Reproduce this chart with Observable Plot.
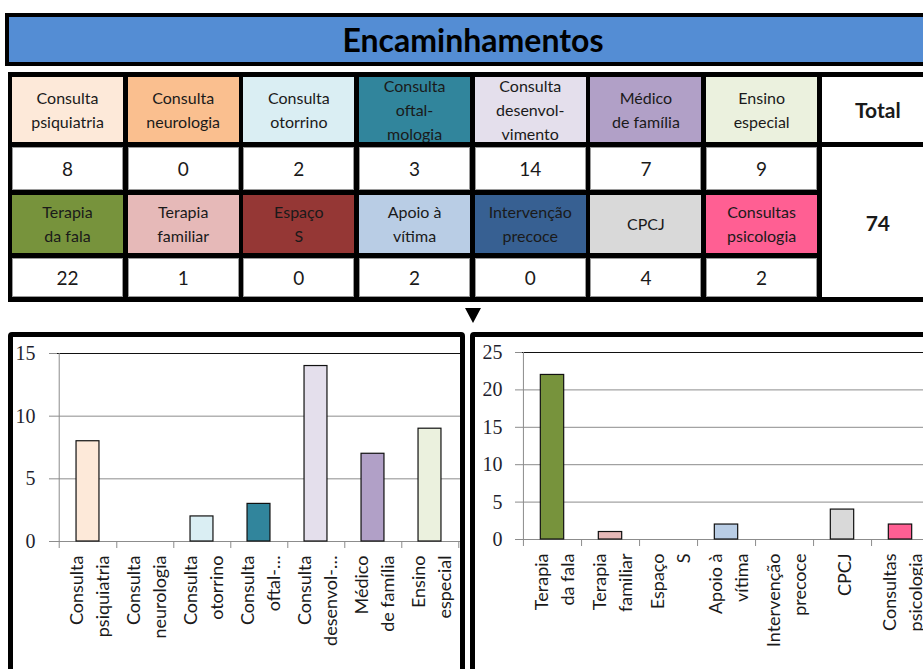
<!DOCTYPE html>
<html>
<head>
<meta charset="utf-8">
<script src="https://cdn.jsdelivr.net/npm/d3@7"></script>
<script src="https://cdn.jsdelivr.net/npm/@observablehq/plot@0.6"></script>
<style>
  html, body { margin: 0; padding: 0; width: 923px; height: 669px; overflow: hidden; background: #fff; font-family: Lato, "Open Sans", sans-serif; color: #1a1a1a; }
  #title { position: absolute; left: 5px; top: 13px; width: 928px; height: 45px; border: 4px solid #000; background: #548DD4;
           display: flex; align-items: center; justify-content: center; font-weight: 700; font-size: 32px; color: #000; }
  #table { position: absolute; left: 8px; top: 72px; width: 940px; background: #000; padding: 5px 0 5px 4px; box-sizing: border-box;
           display: grid; grid-template-columns: repeat(7, 111px) 112px; column-gap: 4.7px; row-gap: 5px;
           grid-template-rows: 65px 43px 58px 39px; }
  .head { display: flex; align-items: center; justify-content: center; text-align: center; white-space: pre-line;
          font-size: 16px; line-height: 24px; overflow: hidden; color: #1a1a1a; }
  .val { background: #fff; display: flex; align-items: center; justify-content: center; font-size: 19px; box-shadow: inset 0 0 0 1px #9a9a9a; }
  .total { background: #fff; display: flex; align-items: center; justify-content: center; font-size: 21px; font-weight: 700; }
  #arrow { position: absolute; left: 465px; top: 308px; width: 0; height: 0; border-left: 8px solid transparent; border-right: 8px solid transparent; border-top: 15px solid #000; }
  .panel { position: absolute; top: 332px; height: 360px; border: 5px solid #000; border-radius: 4px; background: #fff; overflow: hidden; }
  #panelA { left: 8px; width: 447px; }
  #panelB { left: 470px; width: 470px; }
  .panel svg { position: absolute; left: 0; top: 0; overflow: visible; }
</style>
</head>
<body>
<div id="title">Encaminhamentos</div>
<div id="table"></div>
<div id="arrow"></div>
<div class="panel" id="panelA"></div>
<div class="panel" id="panelB"></div>
<script>
// ---- data ----
const headA = ["Consulta\npsiquiatria", "Consulta\nneurologia", "Consulta\notorrino", "Consulta\noftal-\nmologia", "Consulta\ndesenvol-\nvimento", "Médico\nde família", "Ensino\nespecial"];
const axisA = ["Consulta\npsiquiatria", "Consulta\nneurologia", "Consulta\notorrino", "Consulta\noftal-…", "Consulta\ndesenvol-…", "Médico\nde família", "Ensino\nespecial"];
const valuesA = [8, 0, 2, 3, 14, 7, 9];
const headB = ["Terapia\nda fala", "Terapia\nfamiliar", "Espaço\nS", "Apoio à\nvítima", "Intervenção\nprecoce", "CPCJ", "Consultas\npsicologia"];
const axisB = ["Terapia\nda fala", "Terapia\nfamiliar", "Espaço\nS", "Apoio à\nvítima", "Intervenção\nprecoce", "CPCJ", "Consultas\npsicologia"];
const valuesB = [22, 1, 0, 2, 0, 4, 2];
const ticksA = [0, 5, 10, 15];
const ticksB = [0, 5, 10, 15, 20, 25];
const totalLabel = "Total";

// ---- styles ----
const paletteA = ["#FDE9D9", "#FABF8F", "#DAEEF3", "#31859C", "#E4DFEC", "#B1A0C7", "#EBF1DE"];
const paletteB = ["#77933C", "#E6B9B8", "#953735", "#B9CDE5", "#376092", "#D9D9D9", "#FF5F93"];

// ---- table ----
const table = document.getElementById("table");
function cell(cls, text, col, row, span, bg) {
  const d = document.createElement("div");
  d.className = cls;
  d.textContent = text;
  d.style.gridColumn = col;
  d.style.gridRow = span ? `${row} / span ${span}` : row;
  if (bg) d.style.background = bg;
  table.appendChild(d);
}
headA.forEach((h, i) => cell("head", h, i + 1, 1, 0, paletteA[i]));
valuesA.forEach((v, i) => cell("val", v, i + 1, 2));
headB.forEach((h, i) => cell("head", h, i + 1, 3, 0, paletteB[i]));
valuesB.forEach((v, i) => cell("val", v, i + 1, 4));
cell("total", totalLabel, 8, 1);
cell("total", d3.sum(valuesA) + d3.sum(valuesB), 8, 2, 3);

// ---- charts ----
function chart({cats, vals, pal, ticks, width, height, ml, mt, mb, tickSize, tickPad}) {
  const n = cats.length;
  const bw = (width - ml) / n;
  const plotH = height - mt - mb;
  const ymax = ticks[ticks.length - 1];
  const data = cats.map((c, i) => ({c, v: vals[i]}));
  const inset = (bw - 23.5) / 2;
  return Plot.plot({
    width, height,
    marginLeft: ml, marginRight: 0, marginTop: mt, marginBottom: mb,
    x: {domain: cats, padding: 0, axis: null},
    y: {domain: [0, ymax], axis: null},
    color: {domain: cats, range: pal},
    style: {background: "transparent", overflow: "visible"},
    marks: [
      Plot.ruleY(ticks.filter(t => t < ymax), {stroke: "#8c8c8c", strokeWidth: 1}),
      Plot.ruleY([ymax], {stroke: "#111", strokeWidth: 1}),
      Plot.ruleX([cats[0]], {x: d => d, dx: -bw / 2, stroke: "#8c8c8c", insetBottom: -7}),
      Plot.ruleX(cats, {x: d => d, dx: bw / 2, stroke: "#8c8c8c", insetTop: plotH, insetBottom: -7}),
      Plot.barY(data, {filter: d => d.v > 0, x: "c", y: "v", fill: "c", stroke: "#111", strokeWidth: 1.2, insetLeft: inset, insetRight: inset}),
      Plot.axisY(ticks, {tickSize, tickPadding: tickPad, stroke: "#8c8c8c", fill: "#1f1f2f", fontSize: 20, fontFamily: "Liberation Serif", label: null}),
      Plot.axisX({tickSize: 0, tickPadding: 14, tickRotate: -90, fontSize: 18, fontFamily: "Lato", lineHeight: 1.45, fill: "#1a1a1a", label: null})
    ]
  });
}

document.getElementById("panelA").appendChild(chart({
  cats: axisA, vals: valuesA, pal: paletteA, ticks: ticksA,
  width: 447, height: 340, ml: 44, mt: 16, mb: 136, tickSize: 8, tickPad: 14
}));
document.getElementById("panelB").appendChild(chart({
  cats: axisB, vals: valuesB, pal: paletteB, ticks: ticksB,
  width: 454, height: 340, ml: 47, mt: 15, mb: 138, tickSize: 7, tickPad: 13
}));
</script>
</body>
</html>
